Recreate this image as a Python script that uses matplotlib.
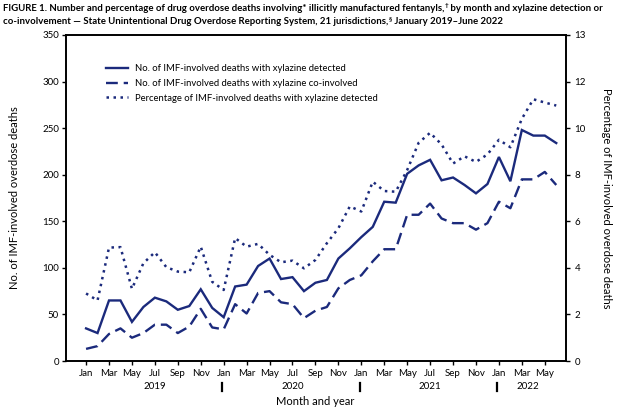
import matplotlib
matplotlib.use("Agg")
import matplotlib.pyplot as plt
from matplotlib.lines import Line2D

plt.rcParams['font.family'] = ['Lato', 'DejaVu Sans']

months = ["Jan", "Feb", "Mar", "Apr", "May", "Jun", "Jul", "Aug", "Sep", "Oct", "Nov", "Dec"]
years = ["2019", "2020", "2021", "2022"]

detected = [35, 30, 65, 65, 42, 58, 68, 64, 55, 59, 77, 57,
            47, 80, 82, 102, 110, 88, 90, 75, 84, 87, 110, 121,
            133, 144, 171, 170, 201, 210, 216, 194, 197, 189, 180, 190,
            219, 193, 248, 242, 242, 234]
coinvolved = [13, 16, 29, 35, 25, 30, 39, 39, 30, 37, 56, 36,
              34, 61, 51, 73, 75, 63, 61, 46, 54, 58, 78, 87,
              92, 107, 120, 120, 157, 157, 169, 153, 148, 148, 141, 148,
              171, 164, 195, 195, 203, 189]
pct_detected = [2.9, 2.6, 4.87, 4.89, 3.1, 4.2, 4.67, 4.03, 3.84, 3.81, 4.91, 3.4,
                3.05, 5.28, 4.91, 5.03, 4.56, 4.24, 4.31, 3.98, 4.34, 5.06, 5.7, 6.64,
                6.42, 7.7, 7.3, 7.27, 8.2, 9.37, 9.8, 9.3, 8.48, 8.79, 8.55, 8.87,
                9.5, 9.18, 10.4, 11.24, 11.1, 10.97]

left_ticks = [0, 50, 100, 150, 200, 250, 300, 350]
right_ticks = [0, 2, 4, 6, 8, 10, 12, 14]
right_labels = ["0", "2", "4", "6", "8", "10", "12", "13"]

color = "#1b2a7c"
x = list(range(len(detected)))

fig = plt.figure(figsize=(6.34, 4.11), dpi=100)
ax = fig.add_axes([66/634, 1-361/411, 500/634, 326/411])
ax2 = ax.twinx()

ax.plot(x, detected, color=color, lw=1.7, ls='-', solid_joinstyle='miter')
ax.plot(x, coinvolved, color=color, lw=1.7, ls=(0, (5, 2.5)))
ax2.plot(x, pct_detected, color=color, lw=1.8, ls=(0, (1, 1.8)))

ax.set_xlim(-1.75, 41.85)
ax.set_ylim(0, 350)
ax2.set_ylim(0, 14)
ax.set_yticks(left_ticks)
ax.set_yticklabels([str(v) for v in left_ticks])
ax2.set_yticks(right_ticks)
ax2.set_yticklabels(right_labels)

tick_pos = [i for i in x if i % 2 == 0]
ax.set_xticks(tick_pos)
ax.set_xticklabels([months[i % 12] for i in tick_pos])

for a in (ax, ax2):
    for s in a.spines.values():
        s.set_linewidth(1.2)
        s.set_color('black')
ax.tick_params(axis='both', labelsize=7, length=3, width=1, direction='out', pad=2)
ax2.tick_params(axis='y', labelsize=7, length=3, width=1, direction='out', pad=3)
ax.tick_params(axis='x', pad=3)

ax.set_ylabel("No. of IMF-involved overdose deaths", fontsize=8, labelpad=16)
ax2.set_ylabel("Percentage of IMF-involved overdose deaths", fontsize=8, rotation=270, labelpad=19)

# year labels and separators
year_centers = [6, 18, 30, 38.5]
trans = ax.get_xaxis_transform()
for yc, yl in zip(year_centers, years):
    ax.text(yc, -0.077, yl, transform=trans, ha='center', va='center', fontsize=7)
for sep in [12, 24, 36]:
    ax.plot([sep - 0.15, sep - 0.15], [-0.066, -0.092], transform=trans, color='black',
            lw=1.6, clip_on=False)
ax.text(20, -0.125, "Month and year", transform=trans, ha='center', va='center', fontsize=8)

handles = [Line2D([], [], color=color, lw=1.7, ls='-'),
           Line2D([], [], color=color, lw=1.7, ls=(0, (5, 2.5))),
           Line2D([], [], color=color, lw=1.8, ls=(0, (1, 1.8)))]
labels = ["No. of IMF-involved deaths with xylazine detected",
          "No. of IMF-involved deaths with xylazine co-involved",
          "Percentage of IMF-involved deaths with xylazine detected"]
ax.legend(handles, labels, loc='upper left', bbox_to_anchor=(0.07, 0.925), frameon=False,
          fontsize=6.8, handlelength=2.4, handletextpad=0.7, labelspacing=0.6, borderpad=0)

# title with superscript marks as separate small texts
fs = 6.95
sfs = 4.6


def title_line(y_px, before, mark, after):
    t_a = fig.text(3/634, 1 - y_px/411, before, fontsize=fs, fontweight='bold',
                   ha='left', va='center')
    t_s = ax.annotate(mark, xy=(1, 0.85), xycoords=t_a, fontsize=sfs, fontweight='bold',
                      ha='left', va='center', annotation_clip=False)
    ax.annotate(after, xy=(1, 0.5), xycoords=(t_s, t_a), fontsize=fs, fontweight='bold',
                ha='left', va='center', annotation_clip=False)


title_line(8.5, "FIGURE 1. Number and percentage of drug overdose deaths involving* illicitly manufactured fentanyls,",
           "\u2020", " by month and xylazine detection or")
title_line(22.0, "co-involvement \u2014 State Unintentional Drug Overdose Reporting System, 21 jurisdictions,",
           "\u00a7", " January 2019\u2013June 2022")

fig.savefig("out.png", dpi=100)
